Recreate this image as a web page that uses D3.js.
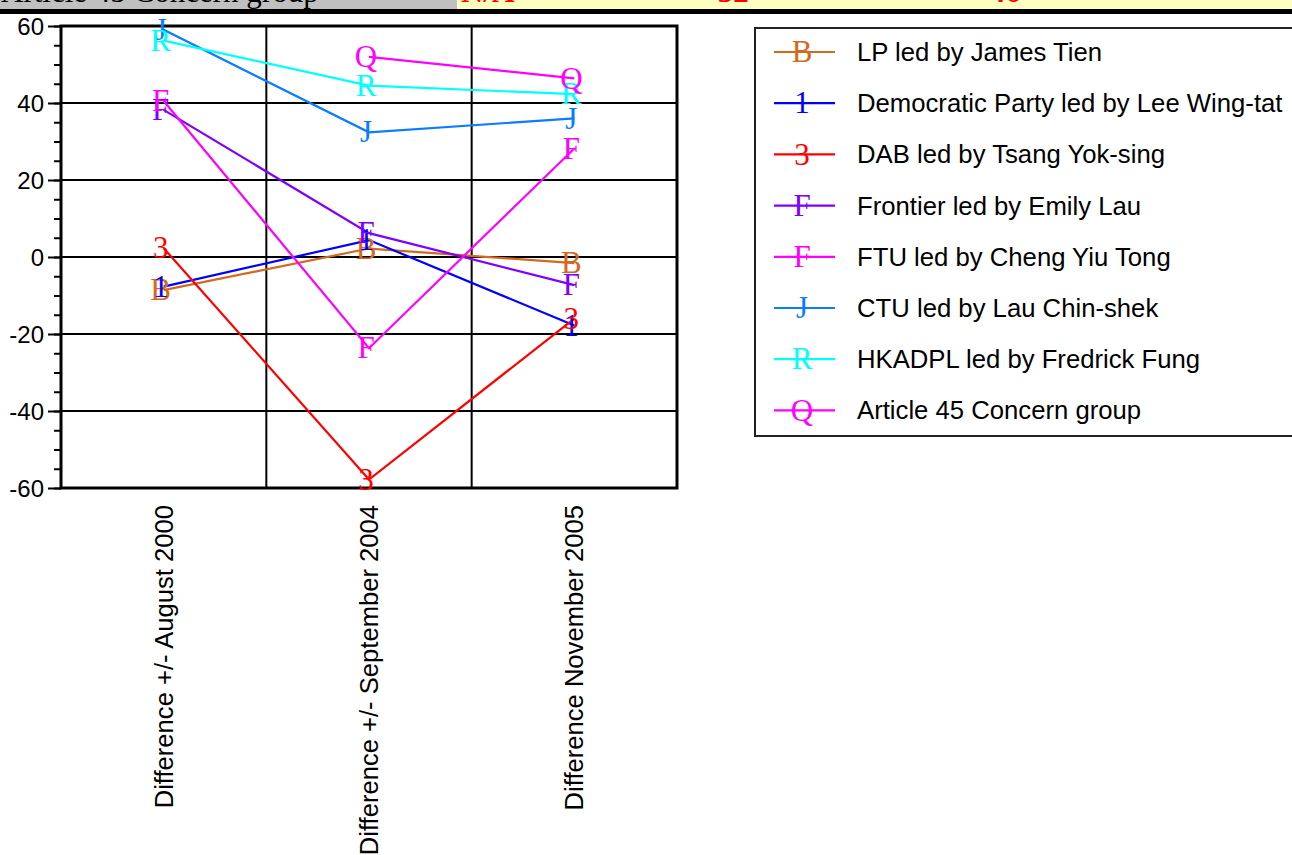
<!DOCTYPE html>
<html>
<head>
<meta charset="utf-8">
<script src="https://cdn.jsdelivr.net/npm/d3@7"></script>
<style>
  html, body { margin: 0; padding: 0; background: #ffffff; }
  svg { display: block; }
</style>
</head>
<body>
<svg id="chart" width="1292" height="855"></svg>
<script>
// ---------------- data ----------------
const categories = [
  "Difference +/- August 2000",
  "Difference +/- September 2004",
  "Difference November 2005"
];
const seriesNames = [
  "LP led by James Tien",
  "Democratic Party led by Lee Wing-tat",
  "DAB led by Tsang Yok-sing",
  "Frontier led by Emily Lau",
  "FTU led by Cheng Yiu Tong",
  "CTU led by Lau Chin-shek",
  "HKADPL led by Fredrick Fung",
  "Article 45 Concern group"
];
const seriesMarkers = ["B", "1", "3", "F", "F", "J", "R", "Q"];
const seriesColors = ["#D2691E", "#0000FF", "#FF0000", "#8000FF", "#FF00FF", "#0A7CFF", "#00FFFF", "#FF00FF"];
const lpValues        = [-8.6, 2.2, -1.6];
const dpValues        = [-7.7, 4.4, -17.8];
const dabValues       = [2.3, -57.8, -16.0];
const frontierValues  = [38.2, 6.2, -7.3];
const ftuValues       = [40.5, -23.7, 28.2];
const ctuValues       = [59.0, 32.4, 36.0];
const hkadplValues    = [56.2, 44.5, 42.3];
const art45Values     = [null, 52.0, 46.4];
const allValues = [lpValues, dpValues, dabValues, frontierValues, ftuValues, ctuValues, hkadplValues, art45Values];
const yTicks = [60, 40, 20, 0, -20, -40, -60];
const headerLabel = "Article 45 Concern group";
const headerValues = ["N/A", "+32", "+46"];

// ---------------- setup ----------------
const svg = d3.select("#chart");
const sans = "'Liberation Sans', Arial, sans-serif";
const serif = "'Liberation Serif', 'Times New Roman', serif";

const plot = { left: 61, right: 677, top: 26, bottom: 488 };
const x = d3.scaleBand().domain(categories).range([plot.left, plot.right]).padding(0);
const y = d3.scaleLinear().domain([-60, 60]).range([plot.bottom, plot.top]);
const cx = c => x(c) + x.bandwidth() / 2;

// ---------------- header strip (cropped table row) ----------------
const defs = svg.append("defs");
defs.append("clipPath").attr("id", "stripClip")
  .append("rect").attr("x", 0).attr("y", 0).attr("width", 1292).attr("height", 9);
const strip = svg.append("g").attr("clip-path", "url(#stripClip)");
strip.append("rect").attr("x", 0).attr("y", 0).attr("width", 457).attr("height", 9).attr("fill", "#C0C0C0");
strip.append("rect").attr("x", 457).attr("y", 0).attr("width", 835).attr("height", 9).attr("fill", "#FFFFC0");
strip.append("text").attr("x", 1).attr("y", 2).attr("font-family", serif).attr("font-size", 31)
  .attr("fill", "#000").text(headerLabel);
const headerX = [461, 700, 972];
strip.selectAll("text.hv").data(headerValues).join("text").attr("class", "hv")
  .attr("x", (d, i) => headerX[i]).attr("y", 2)
  .attr("font-family", serif).attr("font-size", 31).attr("font-weight", "bold")
  .attr("fill", "#FF0000").text(d => d);
svg.append("rect").attr("x", 0).attr("y", 9).attr("width", 1292).attr("height", 5).attr("fill", "#000");

// ---------------- grid ----------------
const grid = svg.append("g");
grid.selectAll("line.hg").data(yTicks.filter(t => t !== 60 && t !== -60)).join("line").attr("class", "hg")
  .attr("x1", plot.left).attr("x2", plot.right)
  .attr("y1", d => y(d)).attr("y2", d => y(d))
  .attr("stroke", "#000").attr("stroke-width", 2);
grid.selectAll("line.vg").data(categories.slice(1)).join("line").attr("class", "vg")
  .attr("x1", d => x(d)).attr("x2", d => x(d))
  .attr("y1", plot.top).attr("y2", plot.bottom)
  .attr("stroke", "#000").attr("stroke-width", 2);

// plot frame
svg.append("rect").attr("x", plot.left).attr("y", plot.top)
  .attr("width", plot.right - plot.left).attr("height", plot.bottom - plot.top)
  .attr("fill", "none").attr("stroke", "#000").attr("stroke-width", 3);

// ---------------- y axis ----------------
const minorTicks = d3.range(-60, 61, 5);
const yAxisMinor = d3.axisLeft(y).tickValues(minorTicks).tickSize(7).tickFormat("");
const gMinor = svg.append("g").attr("transform", `translate(${plot.left},0)`).call(yAxisMinor);
gMinor.select(".domain").remove();
gMinor.selectAll(".tick line").attr("stroke", "#000").attr("stroke-width", 2);

const yAxis = d3.axisLeft(y).tickValues(yTicks).tickSize(13).tickPadding(4).tickFormat(d => String(d));
const gY = svg.append("g").attr("transform", `translate(${plot.left},0)`).call(yAxis);
gY.select(".domain").remove();
gY.selectAll(".tick line").attr("stroke", "#000").attr("stroke-width", 2);
gY.selectAll(".tick text").attr("font-family", sans).attr("font-size", 24).attr("fill", "#000")
  .attr("dy", "0.36em");

// ---------------- x axis labels ----------------
const xAxis = d3.axisBottom(x).tickSize(0).tickPadding(0);
const gX = svg.append("g").attr("transform", `translate(0,${plot.bottom})`).call(xAxis);
gX.select(".domain").remove();
gX.selectAll(".tick text")
  .attr("font-family", sans).attr("font-size", 25.6).attr("fill", "#000")
  .attr("text-anchor", "end")
  .attr("transform", "translate(0,17) rotate(-90)")
  .attr("x", 0).attr("y", 0).attr("dy", "0.35em");

// ---------------- series ----------------
const series = seriesNames.map((name, i) => ({
  name, marker: seriesMarkers[i], color: seriesColors[i],
  points: categories.map((c, j) => ({ c, v: allValues[i][j] })).filter(p => p.v !== null)
}));
const line = d3.line().x(p => cx(p.c)).y(p => y(p.v));
const gS = svg.append("g");
series.forEach(s => {
  gS.append("path").datum(s.points).attr("d", line)
    .attr("fill", "none").attr("stroke", s.color).attr("stroke-width", 2.2);
});
series.forEach(s => {
  gS.selectAll(null).data(s.points).join("text")
    .attr("x", p => cx(p.c) - 3).attr("y", p => y(p.v))
    .attr("dy", "0.33em").attr("text-anchor", "middle")
    .attr("font-family", serif).attr("font-size", 31).attr("fill", s.color)
    .text(s.marker);
});

// ---------------- legend ----------------
const lg = svg.append("g");
lg.append("rect").attr("x", 755).attr("y", 28).attr("width", 600).attr("height", 408)
  .attr("fill", "#fff").attr("stroke", "#222").attr("stroke-width", 2);
const rowY = i => 52 + i * 51.2;
const rows = lg.selectAll("g.row").data(series).join("g").attr("class", "row")
  .attr("transform", (d, i) => `translate(0,${rowY(i)})`);
rows.append("line").attr("x1", 774).attr("x2", 835).attr("y1", 0).attr("y2", 0)
  .attr("stroke", d => d.color).attr("stroke-width", 2.2);
rows.append("text").attr("x", 802).attr("y", 0).attr("dy", "0.33em").attr("text-anchor", "middle")
  .attr("font-family", serif).attr("font-size", 31).attr("fill", d => d.color).text(d => d.marker);
rows.append("text").attr("x", 857).attr("y", 0).attr("dy", "0.35em")
  .attr("font-family", sans).attr("font-size", 25.7).attr("fill", "#000").text(d => d.name);
</script>
</body>
</html>
